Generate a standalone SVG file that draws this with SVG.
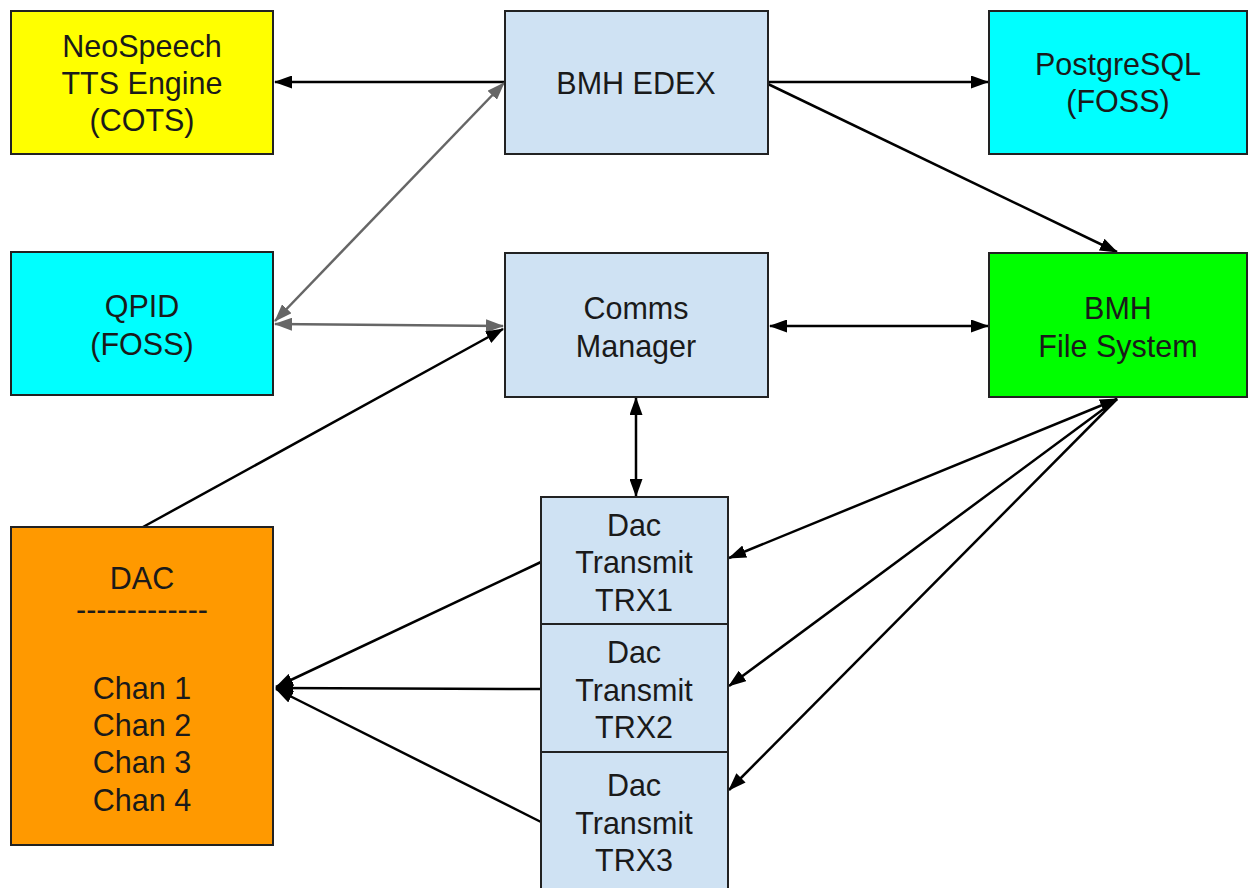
<svg xmlns="http://www.w3.org/2000/svg" width="1248" height="888" viewBox="0 0 1248 888">
<defs>
<style>
.box{stroke:#222;stroke-width:2}
.t{font-family:"Liberation Sans",Arial,sans-serif;font-size:30.5px;fill:#1a1a1a;text-anchor:middle}
.c{fill:none;stroke:#000;stroke-width:2.5}
.g{fill:none;stroke:#666;stroke-width:2.5}
</style>
<marker id="ab" viewBox="0 0 18 13" refX="17" refY="6.5" markerWidth="18" markerHeight="13" orient="auto-start-reverse" markerUnits="userSpaceOnUse"><path d="M0,0 L18,6.5 L0,13 Z" fill="#000"/></marker>
<marker id="ag" viewBox="0 0 18 13" refX="17" refY="6.5" markerWidth="18" markerHeight="13" orient="auto-start-reverse" markerUnits="userSpaceOnUse"><path d="M0,0 L18,6.5 L0,13 Z" fill="#666"/></marker>
</defs>
<rect width="1248" height="888" fill="#fff"/>
<g id="connectors">
<line class="c" x1="505" y1="82" x2="275" y2="82" marker-end="url(#ab)"/>
<line class="c" x1="768" y1="82" x2="988" y2="82" marker-end="url(#ab)"/>
<line class="c" x1="768" y1="84" x2="1117" y2="252" marker-end="url(#ab)"/>
<line class="g" x1="275" y1="321" x2="504" y2="83" marker-start="url(#ag)" marker-end="url(#ag)"/>
<line class="g" x1="275" y1="324" x2="503" y2="326" marker-start="url(#ag)" marker-end="url(#ag)"/>
<line class="c" x1="143" y1="527" x2="503" y2="329" marker-end="url(#ab)"/>
<line class="c" x1="770" y1="326" x2="988" y2="326" marker-start="url(#ab)" marker-end="url(#ab)"/>
<line class="c" x1="636" y1="398" x2="636" y2="496" marker-start="url(#ab)" marker-end="url(#ab)"/>
<line class="c" x1="1117" y1="399" x2="729" y2="558" marker-start="url(#ab)" marker-end="url(#ab)"/>
<line class="c" x1="1117" y1="399" x2="729" y2="686" marker-end="url(#ab)"/>
<line class="c" x1="1117" y1="399" x2="729" y2="790" marker-end="url(#ab)"/>
<line class="c" x1="541" y1="562" x2="276" y2="687" marker-end="url(#ab)"/>
<line class="c" x1="541" y1="689" x2="276" y2="688" marker-end="url(#ab)"/>
<line class="c" x1="541" y1="822" x2="276" y2="689" marker-end="url(#ab)"/>
</g>
<g id="neospeech">
<rect class="box" x="11" y="11" width="262" height="143" fill="#ffff00"/>
<text class="t" x="142" y="57">NeoSpeech</text>
<text class="t" x="142" y="94">TTS Engine</text>
<text class="t" x="142" y="131">(COTS)</text>
</g>
<g id="edex">
<rect class="box" x="505" y="11" width="263" height="143" fill="#cfe2f3"/>
<text class="t" x="636" y="94">BMH EDEX</text>
</g>
<g id="postgresql">
<rect class="box" x="989" y="11" width="258" height="143" fill="#00ffff"/>
<text class="t" x="1118" y="75">PostgreSQL</text>
<text class="t" x="1118" y="112">(FOSS)</text>
</g>
<g id="qpid">
<rect class="box" x="11" y="252" width="262" height="143" fill="#00ffff"/>
<text class="t" x="142" y="317">QPID</text>
<text class="t" x="142" y="355">(FOSS)</text>
</g>
<g id="comms">
<rect class="box" x="505" y="253" width="263" height="144" fill="#cfe2f3"/>
<text class="t" x="636" y="319">Comms</text>
<text class="t" x="636" y="357">Manager</text>
</g>
<g id="filesystem">
<rect class="box" x="989" y="253" width="258" height="144" fill="#00ff00"/>
<text class="t" x="1118" y="319">BMH</text>
<text class="t" x="1118" y="357">File System</text>
</g>
<g id="dac">
<rect class="box" x="11" y="527" width="262" height="318" fill="#ff9900"/>
<text class="t" x="142" y="589">DAC</text>
<text class="t" x="142" y="620">-------------</text>
<text class="t" x="142" y="699">Chan 1</text>
<text class="t" x="142" y="736">Chan 2</text>
<text class="t" x="142" y="773">Chan 3</text>
<text class="t" x="142" y="811">Chan 4</text>
</g>
<g id="trx1">
<rect class="box" x="541" y="497" width="187" height="127" fill="#cfe2f3"/>
<text class="t" x="634" y="536">Dac</text>
<text class="t" x="634" y="573">Transmit</text>
<text class="t" x="634" y="611">TRX1</text>
</g>
<g id="trx2">
<rect class="box" x="541" y="624" width="187" height="128" fill="#cfe2f3"/>
<text class="t" x="634" y="663">Dac</text>
<text class="t" x="634" y="701">Transmit</text>
<text class="t" x="634" y="738">TRX2</text>
</g>
<g id="trx3">
<rect class="box" x="541" y="752" width="187" height="140" fill="#cfe2f3"/>
<text class="t" x="634" y="796">Dac</text>
<text class="t" x="634" y="834">Transmit</text>
<text class="t" x="634" y="871">TRX3</text>
</g>
</svg>
